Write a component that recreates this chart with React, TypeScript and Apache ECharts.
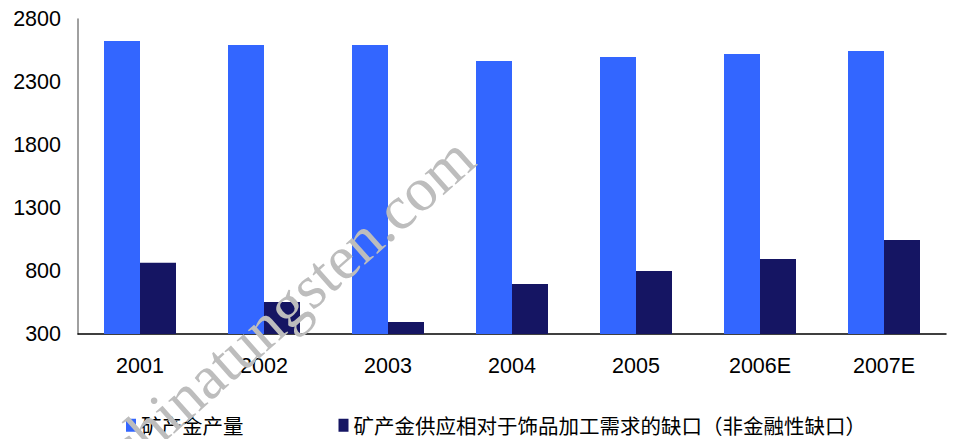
import React, { useEffect, useRef } from "react";
import * as echarts from "echarts";

const categories = ["2001", "2002", "2003", "2004", "2005", "2006E", "2007E"];
const mineProduction = [2625, 2594, 2594, 2467, 2498, 2522, 2546];
const supplyGap = [866, 554, 395, 697, 800, 895, 1046];
const seriesNames = ["矿产金产量", "矿产金供应相对于饰品加工需求的缺口（非金融性缺口）"];

export default function App() {
  const ref = useRef<HTMLDivElement>(null);
  useEffect(() => {
    if (!ref.current) return;
    const chart = echarts.init(ref.current, null, { renderer: "svg" });
    chart.setOption({
      animation: false,
      backgroundColor: "#ffffff",
      grid: { left: 78, right: 11, top: 19, bottom: 105 },
      legend: {
        left: 121,
        top: 410,
        icon: "rect",
        itemWidth: 10,
        itemHeight: 13,
        itemGap: 95,
        textStyle: { fontFamily: "Noto Sans CJK SC", fontSize: 20.5, color: "#000" },
        data: seriesNames,
      },
      xAxis: {
        type: "category",
        data: categories,
        axisLine: { lineStyle: { color: "#000", width: 1.5 } },
        axisTick: { show: false },
        axisLabel: { fontFamily: "Liberation Sans", fontSize: 21.5, color: "#000", margin: 21 },
      },
      yAxis: {
        type: "value",
        min: 300,
        max: 2800,
        interval: 500,
        axisLine: { show: true, lineStyle: { color: "#808080", width: 1.5 } },
        axisTick: { show: false },
        splitLine: { show: false },
        axisLabel: {
          fontFamily: "Liberation Sans",
          fontSize: 21.5,
          color: "#000",
          margin: 17,
          formatter: (v: number) => String(v),
        },
      },
      series: [
        {
          name: seriesNames[0],
          type: "bar",
          data: mineProduction,
          barWidth: 36,
          barGap: "0%",
          itemStyle: { color: "#3366ff" },
        },
        {
          name: seriesNames[1],
          type: "bar",
          data: supplyGap,
          barWidth: 36,
          barGap: "0%",
          itemStyle: { color: "#151563" },
        },
      ],
      graphic: [
        {
          type: "text",
          x: 290,
          y: 303,
          rotation: (41.5 * Math.PI) / 180,
          z: 100,
          style: {
            text: "chinatungsten.com",
            fontFamily: "Liberation Serif",
            fontSize: 62,
            fill: "#bdbdbd",
            textAlign: "center",
            textVerticalAlign: "middle",
          },
        },
      ],
    });
    return () => chart.dispose();
  }, []);
  return <div ref={ref} style={{ width: 957, height: 439, position: "absolute", left: 0, top: 0 }} />;
}
